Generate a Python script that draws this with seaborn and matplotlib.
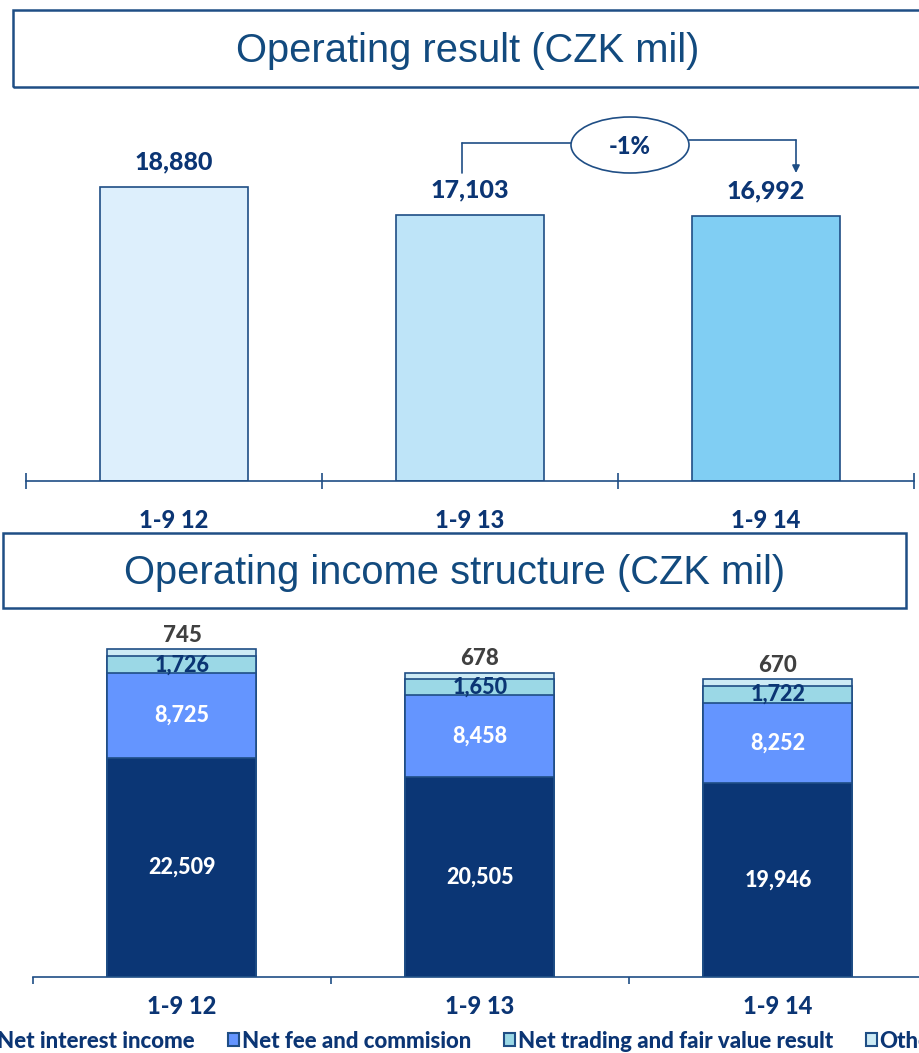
import numpy as np
import matplotlib
matplotlib.use('Agg')
import matplotlib.pyplot as plt
from matplotlib.patches import Rectangle, Ellipse, Patch
import seaborn as sns

# ---------------- data ----------------
periods = ['1-9 12', '1-9 13', '1-9 14']
operating_result = [18880, 17103, 16992]
change_label = '-1%'

components = ['Net interest income', 'Net fee and commision',
              'Net trading and fair value result', 'Other']
net_interest = [22509, 20505, 19946]
net_fee = [8725, 8458, 8252]
net_trading = [1726, 1650, 1722]
other = [745, 678, 670]

# ---------------- style ----------------
sns.set_style('white')
plt.rcParams['font.family'] = ['Lato', 'DejaVu Sans']

NAVY = '#0B3574'
EDGE = '#1F4E85'
TITLE = '#124A7E'
GREY = '#404040'
top_colors = ['#DDEFFC', '#BEE4F8', '#80CEF3']
comp_colors = ['#0B3675', '#6495FF', '#9BD8E6', '#CDEBF5']
WT = 'black'

W, H = 920, 1053
fig = plt.figure(figsize=(W / 100, H / 100), dpi=100)


def px_rect(x0, y0, x1, y1):
    return [x0 / W, 1 - y1 / H, (x1 - x0) / W, (y1 - y0) / H]


def title_box(x0, y0, x1, y1, text, cx):
    fig.patches.append(Rectangle((x0 / W, 1 - y1 / H), (x1 - x0) / W, (y1 - y0) / H,
                                 transform=fig.transFigure, fill=False,
                                 edgecolor=EDGE, linewidth=1.8))
    fig.text(cx / W, 1 - ((y0 + y1) / 2 + 2) / H, text, ha='center', va='center',
             fontsize=28.7, color=TITLE, family=['Liberation Sans', 'DejaVu Sans'])


title_box(13, 10, 925, 87, 'Operating result (CZK mil)', 468)
title_box(3, 533, 906, 608, 'Operating income structure (CZK mil)', 455)

# ---------------- top chart ----------------
ax1 = fig.add_axes(px_rect(26, 100, 914, 481))
sns.barplot(x=periods, y=operating_result, hue=periods, palette=top_colors,
            saturation=1, width=0.5, edgecolor=EDGE, linewidth=1.2, legend=False, ax=ax1)
YTOP1 = 24460
ax1.set_xlim(-0.5, 2.5)
ax1.set_ylim(0, YTOP1)

for i, v in enumerate(operating_result):
    ax1.annotate(f'{v:,}', (i, v), xytext=(0, 18), textcoords='offset points',
                 ha='center', va='center', fontsize=18, fontweight=WT, color=NAVY)


def dx(xpx):
    return (xpx - 26) / 296 - 0.5


def dy(ypx):
    return (481 - ypx) * YTOP1 / 381


lc = dict(color=EDGE, lw=1.2, clip_on=False)
xl, xr = dx(462), dx(796)
ax1.plot([xl, xl], [dy(173), dy(143)], **lc)
ax1.plot([xl, dx(571)], [dy(143), dy(143)], **lc)
ax1.plot([dx(689), xr], [dy(140), dy(140)], **lc)
ax1.annotate('', xy=(xr, dy(173)), xytext=(xr, dy(140)),
             arrowprops=dict(arrowstyle='-|>', color=EDGE, lw=1.2,
                             mutation_scale=11, shrinkA=0, shrinkB=0))
ell = Ellipse((dx(630), dy(145)), width=dx(689) - dx(571), height=dy(117) - dy(173),
              facecolor='white', edgecolor=EDGE, lw=1.2, clip_on=False, zorder=5)
ax1.add_patch(ell)
ax1.text(dx(630), dy(146), change_label, ha='center', va='center', fontsize=17,
         fontweight=WT, color=NAVY, zorder=6)

# ---------------- bottom chart ----------------
ax2 = fig.add_axes(px_rect(33, 620, 927, 977))
layers = np.array([net_interest, net_fee, net_trading, other])
cum = np.cumsum(layers, axis=0)
for k in range(len(components) - 1, -1, -1):
    sns.barplot(x=periods, y=cum[k], color=comp_colors[k], saturation=1, width=0.5,
                edgecolor=EDGE, linewidth=1.2, ax=ax2)
ax2.set_xlim(-0.5, 2.5)
ax2.set_ylim(0, 36690)

for i in range(len(periods)):
    ax2.text(i, layers[0][i] / 2, f'{net_interest[i]:,}', ha='center', va='center',
             fontsize=15.5, fontweight=WT, color='white')
    ax2.text(i, cum[0][i] + layers[1][i] / 2, f'{net_fee[i]:,}', ha='center', va='center',
             fontsize=15.5, fontweight=WT, color='white')
    ax2.text(i, cum[1][i] + layers[2][i] / 2, f'{net_trading[i]:,}', ha='center',
             va='center', fontsize=15.5, fontweight=WT, color=NAVY)
    ax2.annotate(f'{other[i]:,}', (i, cum[3][i]), xytext=(0, 10), textcoords='offset points',
                 ha='center', va='center', fontsize=16, fontweight=WT, color=GREY)

# ---------------- axes styling ----------------
for ax, direction, length, pad in [(ax1, 'inout', 11.5, 20), (ax2, 'out', 5, 13)]:
    for s in ['top', 'left', 'right']:
        ax.spines[s].set_visible(False)
    ax.spines['bottom'].set_color(EDGE)
    ax.spines['bottom'].set_linewidth(1.2)
    ax.set_yticks([])
    ax.set_ylabel('')
    ax.set_xlabel('')
    ax.set_xticks(range(len(periods)))
    ax.set_xticklabels(periods, fontsize=17, fontweight=WT, color=NAVY)
    ax.tick_params(axis='x', which='major', length=0, pad=pad)
    ax.set_xticks([-0.5, 0.5, 1.5, 2.5], minor=True)
    ax.tick_params(axis='x', which='minor', direction=direction, length=length,
                   width=1.2, color=EDGE, bottom=True)
    ax.set_facecolor('none')

# ---------------- legend ----------------
handles = [Patch(facecolor=c, edgecolor=EDGE, linewidth=1.5, label=n)
           for c, n in zip(comp_colors, components)]
leg = fig.legend(handles=handles, loc='center left', bbox_to_anchor=(-16 / W, 1 - 1041 / H),
                 ncol=4, frameon=False, handlelength=0.5, handleheight=0.5,
                 handletextpad=0.1, columnspacing=1.5, borderpad=0, borderaxespad=0,
                 prop=dict(family=['Lato', 'DejaVu Sans'], weight=WT, size=16))
for t in leg.get_texts():
    t.set_color(NAVY)

fig.savefig('out.png', dpi=100)
